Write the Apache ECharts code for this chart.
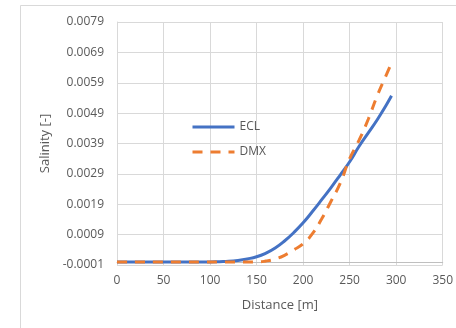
<!DOCTYPE html>
<html>
<head>
<meta charset="utf-8">
<script src="https://cdn.jsdelivr.net/npm/echarts@6/dist/echarts.min.js"></script>
<style>
  html, body { margin: 0; padding: 0; background: #fff; }
  #main { width: 456px; height: 328px; }
</style>
</head>
<body>
<div id="main"></div>
<script>
// distance along the channel [m]
var distance = [0, 10, 20, 30, 40, 50, 60, 70, 80, 90, 100, 110, 120, 130, 140, 150,
    160, 170, 180, 190, 200, 210, 220, 230, 240, 250, 260, 270, 280, 290, 295];
// salinity, ECL model
var ecl = [0, 0, 0, 0, 0, 0, 0, 0, 0, 0, 0, 0.00001, 0.00002, 0.00005, 0.0001, 0.00017,
    0.00029, 0.00046, 0.00069, 0.00097, 0.00129, 0.00166, 0.00205, 0.00245, 0.00287, 0.0033,
    0.0038, 0.00425, 0.0047, 0.0052, 0.00547];
// salinity, DMX model
var dmx = [0, 0, 0, 0, 0, 0, 0, 0, 0, 0, 0, 0, 0, 0, 0, 0,
    0.00003, 0.0001, 0.00022, 0.0004, 0.0006, 0.00093, 0.00142, 0.002, 0.0026, 0.0034,
    0.004, 0.0047, 0.0055, 0.0062, 0.00655];
var yTicks = ['-0.0001', '0.0009', '0.0019', '0.0029', '0.0039', '0.0049', '0.0059', '0.0069', '0.0079'];

var txt = '#595959';
var font = 'Open Sans';

function pairs(ys) {
    var out = [];
    for (var i = 0; i < distance.length; i++) out.push([distance[i], ys[i]]);
    return out;
}

var myChart = echarts.init(document.getElementById('main'));
var option = {
    animation: false,
    backgroundColor: '#fff',
    graphic: [{
        type: 'rect',
        shape: { x: 20.5, y: 5.5, width: 600, height: 400 },
        style: { fill: 'none', stroke: '#d9d9d9', lineWidth: 1 },
        silent: true
    }],
    grid: { left: 117, right: 11, top: 22, bottom: 63, containLabel: false },
    legend: {
        orient: 'vertical',
        left: 186,
        top: 116,
        itemWidth: 42,
        itemHeight: 14,
        itemGap: 13,
        itemStyle: { opacity: 0 },
        lineStyle: { width: 3 },
        textStyle: { color: txt, fontFamily: font, fontSize: 12 },
        data: ['ECL', 'DMX']
    },
    xAxis: {
        type: 'value',
        min: 0,
        max: 350,
        interval: 50,
        name: 'Distance [m]',
        nameLocation: 'middle',
        nameGap: 34,
        nameTextStyle: { color: txt, fontFamily: font, fontSize: 13 },
        axisLine: { lineStyle: { color: '#bfbfbf', width: 1 } },
        axisTick: { show: false },
        axisLabel: { color: txt, fontFamily: font, fontSize: 12, margin: 10 },
        splitLine: { show: true, lineStyle: { color: '#d9d9d9', width: 1 } }
    },
    yAxis: {
        type: 'value',
        min: -0.0001,
        max: 0.0079,
        interval: 0.001,
        name: 'Salinity [-]',
        nameLocation: 'middle',
        nameGap: 55,
        nameTextStyle: { color: txt, fontFamily: font, fontSize: 13 },
        axisLine: { show: true, lineStyle: { color: '#d9d9d9', width: 1 } },
        axisTick: { show: false },
        axisLabel: {
            color: txt, fontFamily: font, fontSize: 12, margin: 13,
            formatter: function(v) {
                var k = Math.round((v + 0.0001) / 0.001);
                return yTicks[k] !== undefined ? yTicks[k] : v.toFixed(4);
            }
        },
        splitLine: { show: true, lineStyle: { color: '#d9d9d9', width: 1 } }
    },
    series: [
        {
            name: 'ECL',
            type: 'line',
            smooth: true,
            symbol: 'none',
            data: pairs(ecl),
            itemStyle: { color: '#4472c4' },
            lineStyle: { color: '#4472c4', width: 3 }
        },
        {
            name: 'DMX',
            type: 'line',
            smooth: true,
            symbol: 'none',
            data: pairs(dmx),
            itemStyle: { color: '#ed7d31' },
            lineStyle: { color: '#ed7d31', width: 3, type: [10, 8] }
        }
    ]
};
myChart.setOption(option);
</script>
</body>
</html>
